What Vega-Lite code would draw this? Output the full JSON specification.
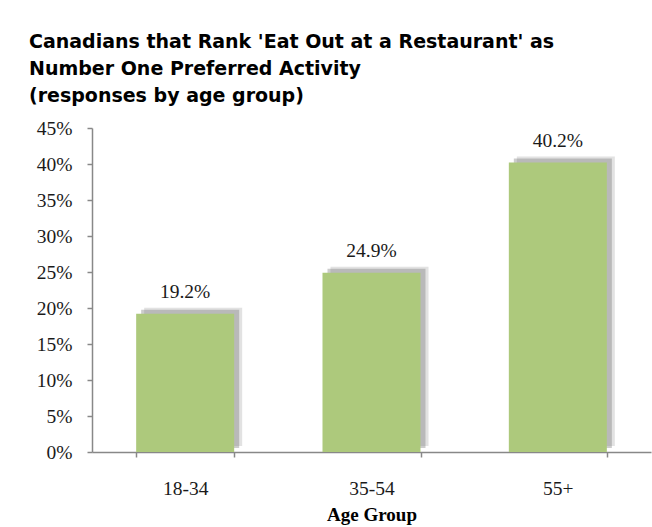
{
  "$schema": "https://vega.github.io/schema/vega-lite/v6.json",
  "autosize": "none",
  "width": 559,
  "height": 324,
  "padding": {"left": 92, "top": 128, "right": 1, "bottom": 75},
  "background": "white",
  "title": {
    "text": ["Canadians that Rank 'Eat Out at a Restaurant' as", "Number One Preferred Activity", "(responses by age group)"],
    "anchor": "start",
    "frame": "group",
    "font": "DejaVu Sans",
    "fontWeight": "bold",
    "fontSize": 19,
    "lineHeight": 27,
    "color": "#000000",
    "dx": -63,
    "offset": 12
  },
  "data": {"values": [
    {"age": "18-34", "share": 0.192},
    {"age": "35-54", "share": 0.249},
    {"age": "55+", "share": 0.402}
  ]},
  "encoding": {
    "x": {"field": "age", "type": "nominal", "sort": null,
      "scale": {"paddingInner": 0.474, "paddingOuter": 0.237},
      "axis": {"title": "Age Group", "labelAngle": 0, "tickBand": "extent", "labelPadding": 22, "titlePadding": 8}},
    "y": {"field": "share", "type": "quantitative",
      "scale": {"domain": [0, 0.45]},
      "axis": {"title": null, "values": [0, 0.05, 0.1, 0.15, 0.2, 0.25, 0.3, 0.35, 0.4, 0.45], "format": ".0%", "grid": false, "labelPadding": 15}}
  },
  "layer": [
    {"mark": {"type": "bar", "color": "#8a8a8a", "opacity": 0.25, "xOffset": 8, "yOffset": -6}},
    {"mark": {"type": "bar", "color": "#6e6e6e", "opacity": 0.35, "xOffset": 5, "yOffset": -4}},
    {"mark": {"type": "bar", "color": "#adc97c"}},
    {"mark": {"type": "text", "baseline": "alphabetic", "dy": -16, "font": "Liberation Serif", "fontSize": 19.5, "color": "#1a1a1a"},
     "encoding": {"text": {"field": "share", "type": "quantitative", "format": ".1%"}}}
  ],
  "config": {
    "view": {"stroke": null},
    "axis": {
      "domainColor": "#888888",
      "domainWidth": 1.5,
      "tickColor": "#888888",
      "tickWidth": 1.5,
      "tickSize": 5,
      "labelFont": "Liberation Serif",
      "labelFontSize": 19.5,
      "labelColor": "#1a1a1a",
      "titleFont": "Liberation Serif",
      "titleFontSize": 19,
      "titleFontWeight": "bold",
      "titleColor": "#000000"
    }
  }
}
